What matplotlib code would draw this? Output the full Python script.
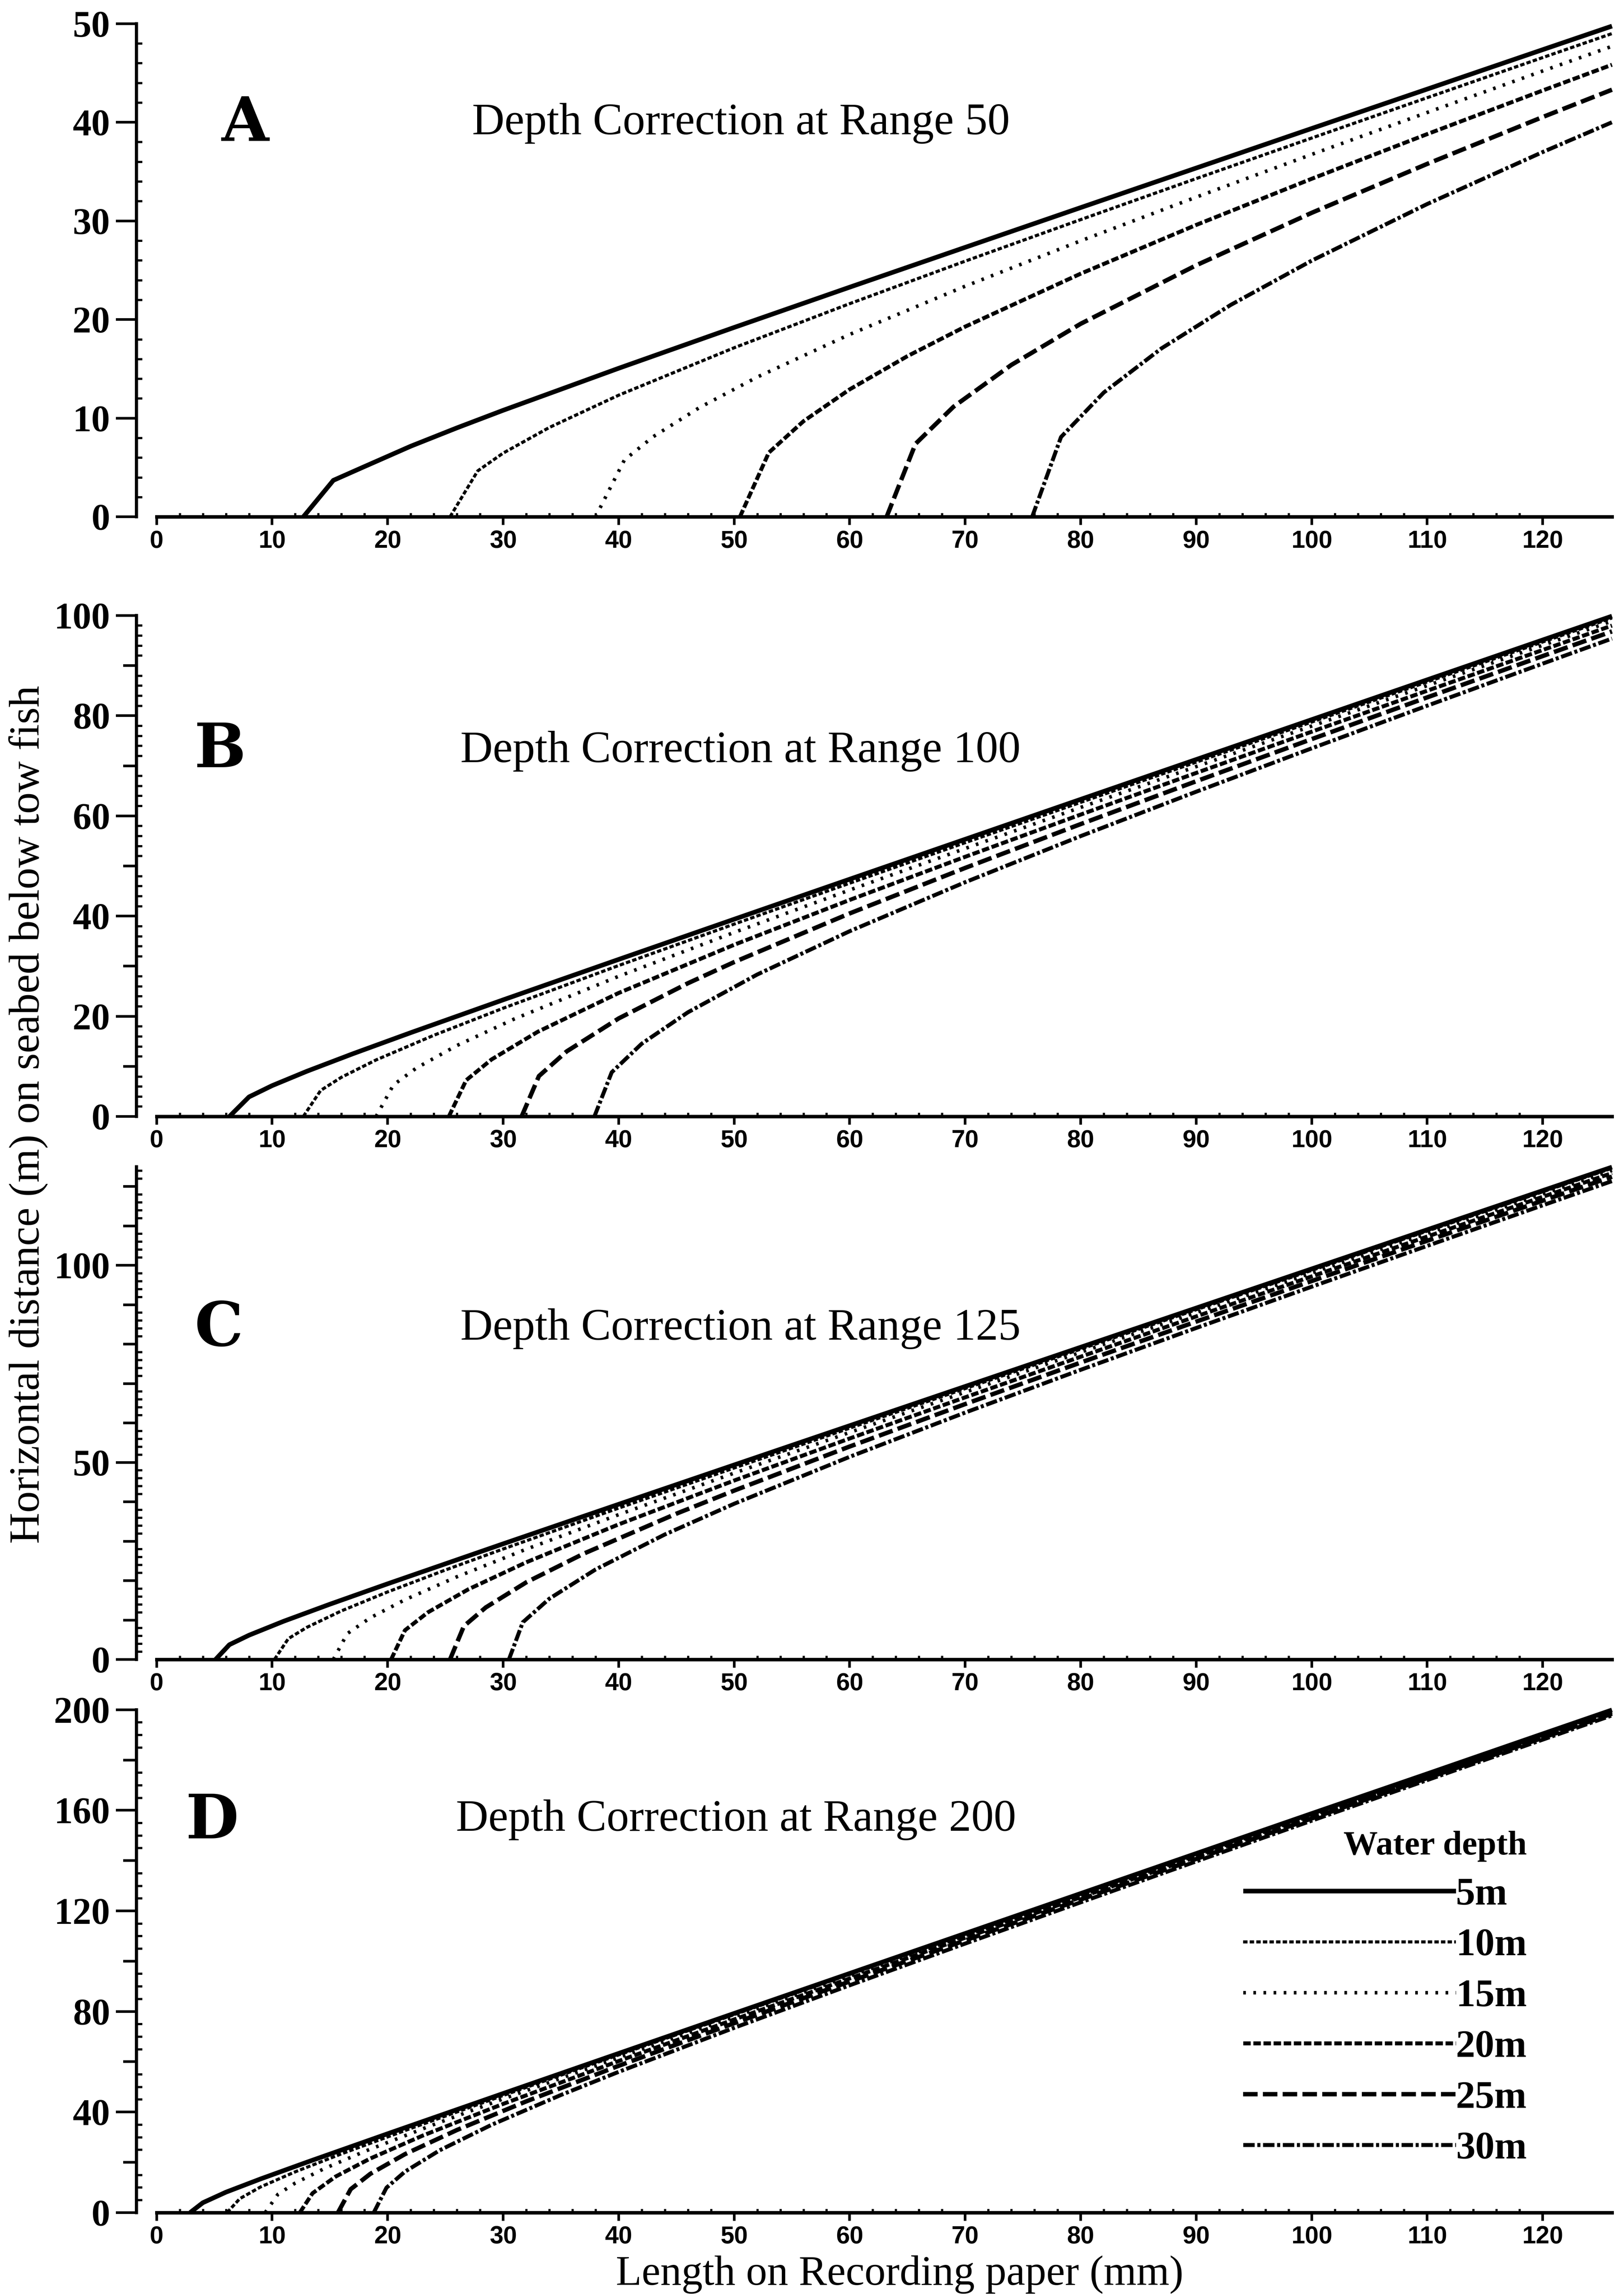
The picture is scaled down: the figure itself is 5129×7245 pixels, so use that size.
"""
Depth correction curves for four recorder ranges (panels A-D)
"""
import numpy as np
import matplotlib
matplotlib.use("Agg")
import matplotlib.pyplot as plt

plt.rcParams['lines.scale_dashes'] = False

depth_labels = ['5m', '10m', '15m', '20m', '25m', '30m']
ranges = [50, 100, 125, 200]
letters = ['A', 'B', 'C', 'D']
x_ticks = list(range(0, 121, 10))

# ---- Range 50 ----
r50_x = [
    [12.7, 15.3, 18, 22, 26, 30, 40, 50, 60, 70, 80, 90, 100, 110, 120, 126],
    [25.4, 27.8, 30, 34, 40, 50, 60, 70, 80, 90, 100, 110, 120, 126],
    [38.0, 40.5, 43, 47, 52, 60, 70, 80, 90, 100, 110, 120, 126],
    [50.5, 53, 56, 60, 65, 70, 80, 90, 100, 110, 120, 126],
    [63.2, 65.7, 69, 74, 80, 90, 100, 110, 120, 126],
    [75.8, 78.3, 82, 87, 93, 100, 110, 120, 126],
]
r50_y = [
    [0, 3.7, 5.10, 7.16, 9.02, 10.80, 15.06, 19.20, 23.28, 27.32, 31.35, 35.36, 39.37, 43.36, 47.36, 49.75],
    [0, 4.66, 6.46, 9.06, 12.33, 17.14, 21.61, 25.92, 30.13, 34.29, 38.40, 42.49, 46.56, 48.99],
    [0, 5.77, 8.13, 11.08, 14.17, 18.49, 23.38, 27.98, 32.41, 36.74, 40.99, 45.20, 47.70],
    [0, 6.51, 9.69, 12.92, 16.29, 19.28, 24.65, 29.59, 34.27, 38.80, 43.22, 45.83],
    [0, 7.40, 11.17, 15.40, 19.57, 25.50, 30.82, 35.78, 40.53, 43.30],
    [0, 8.09, 12.60, 17.08, 21.49, 25.97, 31.71, 36.98, 40.00],
]

# ---- Range 100 ----
r100_x = [
    [6.3, 8, 10, 13, 17, 22, 30, 40, 50, 60, 70, 80, 90, 100, 110, 120, 126],
    [12.7, 14.2, 16, 19, 24, 30, 40, 50, 60, 70, 80, 90, 100, 110, 120, 126],
    [19.0, 20.5, 22.5, 26, 31, 40, 50, 60, 70, 80, 90, 100, 110, 120, 126],
    [25.3, 26.8, 29, 33, 40, 50, 60, 70, 80, 90, 100, 110, 120, 126],
    [31.6, 33.1, 35.5, 40, 46, 50, 60, 70, 80, 90, 100, 110, 120, 126],
    [37.9, 39.4, 42, 46, 52, 60, 70, 80, 90, 100, 110, 120, 126],
]
r100_y = [
    [0, 3.91, 6.16, 9.02, 12.53, 16.73, 23.28, 31.35, 39.37, 47.36, 55.33, 63.30, 71.25, 79.21, 87.16, 95.11, 99.87],
    [0, 5.20, 7.83, 11.29, 16.21, 21.61, 30.13, 38.40, 46.56, 54.65, 62.70, 70.72, 78.73, 86.73, 94.71, 99.50],
    [0, 6.30, 9.69, 14.17, 19.50, 27.98, 36.74, 45.20, 53.49, 61.69, 69.84, 77.93, 86.00, 94.05, 98.87],
    [0, 7.24, 11.39, 16.91, 24.65, 34.27, 43.22, 51.83, 60.26, 68.57, 76.80, 84.98, 93.11, 97.98],
    [0, 8.07, 12.99, 19.57, 26.60, 30.82, 40.53, 49.61, 58.36, 66.91, 75.32, 83.65, 91.90, 96.82],
    [0, 8.82, 14.53, 20.80, 28.34, 36.98, 46.76, 55.96, 64.82, 73.48, 81.99, 90.39, 95.39],
]

# ---- Range 125 ----
r125_x = [
    [5.1, 6.3, 8, 11, 15, 20, 30, 40, 50, 60, 70, 80, 90, 100, 110, 120, 126],
    [10.2, 11.4, 13, 16, 20, 25, 30, 40, 50, 60, 70, 80, 90, 100, 110, 120, 126],
    [15.3, 16.5, 18.5, 21.5, 26, 32, 40, 50, 60, 70, 80, 90, 100, 110, 120, 126],
    [20.3, 21.5, 23.5, 27, 32, 40, 50, 60, 70, 80, 90, 100, 110, 120, 126],
    [25.4, 26.6, 28.5, 32, 37, 45, 50, 60, 70, 80, 90, 100, 110, 120, 126],
    [30.5, 31.7, 34, 38, 44, 50, 60, 70, 80, 90, 100, 110, 120, 126],
]
r125_y = [
    [0, 3.75, 6.16, 9.70, 14.02, 19.20, 29.34, 39.37, 49.35, 59.31, 69.26, 79.21, 89.15, 99.08, 109.01, 118.94, 124.90],
    [0, 5.28, 8.14, 12.33, 17.14, 22.70, 28.03, 38.40, 48.58, 58.68, 68.72, 78.73, 88.72, 98.70, 108.67, 118.63, 124.60],
    [0, 6.55, 10.58, 15.16, 20.98, 27.98, 36.74, 47.28, 57.60, 67.80, 77.93, 88.02, 98.07, 108.09, 118.10, 124.10],
    [0, 7.41, 11.98, 17.82, 24.65, 34.27, 45.39, 56.06, 66.50, 76.80, 87.02, 97.17, 107.28, 117.36, 123.39],
    [0, 8.45, 13.21, 19.57, 26.88, 36.99, 42.84, 54.02, 64.79, 75.32, 85.71, 96.00, 106.22, 116.39, 122.47],
    [0, 9.43, 15.42, 22.83, 31.71, 39.50, 51.41, 62.63, 73.48, 84.09, 94.56, 104.92, 115.21, 121.35],
]

# ---- Range 200 ----
r200_x = [
    [2.9, 4, 6, 9, 13, 20, 30, 40, 50, 60, 70, 80, 90, 100, 110, 120, 126],
    [6.1, 7.2, 9, 12, 16, 22, 30, 40, 50, 60, 70, 80, 90, 100, 110, 120, 126],
    [9.4, 10.5, 12, 14.5, 18, 24, 30, 40, 50, 60, 70, 80, 90, 100, 110, 120, 126],
    [12.4, 13.5, 15.5, 18.5, 23, 30, 40, 50, 60, 70, 80, 90, 100, 110, 120, 126],
    [15.7, 16.8, 18.5, 21.5, 26, 32, 40, 50, 60, 70, 80, 90, 100, 110, 120, 126],
    [18.8, 19.9, 21.5, 24.5, 29, 35, 40, 50, 60, 70, 80, 90, 100, 110, 120, 126],
]
r200_y = [
    [0, 3.91, 8.11, 13.38, 20.02, 31.35, 47.36, 63.30, 79.21, 95.11, 111.0, 126.9, 142.8, 158.7, 174.5, 190.4, 199.9],
    [0, 5.53, 10.20, 16.21, 23.35, 33.46, 46.56, 62.70, 78.73, 94.71, 110.66, 126.59, 142.51, 158.41, 174.32, 190.21, 199.75],
    [0, 7.26, 11.74, 17.46, 24.32, 35.02, 45.20, 61.69, 77.93, 94.05, 110.09, 126.10, 142.07, 158.02, 173.96, 189.88, 199.44],
    [0, 7.69, 14.33, 21.50, 30.54, 43.22, 60.26, 76.80, 93.11, 109.30, 125.40, 141.45, 157.46, 173.45, 189.42, 199.0],
    [0, 9.28, 15.40, 23.23, 32.84, 44.22, 58.36, 75.32, 91.90, 108.26, 124.50, 140.65, 156.75, 172.80, 188.83, 198.43],
    [0, 9.89, 16.27, 24.75, 34.91, 46.76, 55.96, 73.48, 90.39, 106.98, 123.39, 139.67, 155.87, 172.01, 188.10, 197.74],
]

panel_x = [r50_x, r100_x, r125_x, r200_x]
panel_y = [r50_y, r100_y, r125_y, r200_y]

# y axis ticks: labelled, medium (unlabelled), minor step
y_tops = [50, 100, 125, 200]
y_labelled = [[0, 10, 20, 30, 40, 50],
              [0, 20, 40, 60, 80, 100],
              [0, 50, 100],
              [0, 40, 80, 120, 160, 200]]
y_medium = [[],
            [10, 30, 50, 70, 90],
            [10, 20, 30, 40, 60, 70, 80, 90, 110, 120],
            [20, 60, 100, 140, 180]]
y_minor_step = [2, 2, 2, 5]

# line styles for each depth
styles = [
    dict(linestyle='-', linewidth=10.5),
    dict(linewidth=7, dashes=(10, 5)),
    dict(linewidth=8, dashes=(6, 17)),
    dict(linewidth=9, dashes=(17, 6)),
    dict(linewidth=10, dashes=(33, 12)),
    dict(linewidth=9, dashes=(26, 6, 7, 6)),
]

boxes = [(0.0840, 0.7747, 0.9086, 0.2150),
         (0.0840, 0.5133, 0.9086, 0.2184),
         (0.0840, 0.2766, 0.9086, 0.2148),
         (0.0840, 0.0355, 0.9086, 0.2192)]
letter_pos = [(0.0577, 0.762), (0.0393, 0.697), (0.0395, 0.637), (0.0335, 0.744)]
title_pos = [(0.2275, 0.776), (0.2195, 0.707), (0.2195, 0.649), (0.2165, 0.759)]

serif = 'Liberation Serif'

fig = plt.figure(figsize=(51.29, 72.45), dpi=100)

for i in range(4):
    ax = fig.add_axes(boxes[i])
    lines = []
    for j in range(6):
        l, = ax.plot(panel_x[i][j], panel_y[i][j], color='black', clip_on=False,
                     solid_capstyle='butt', label=depth_labels[j], **styles[j])
        lines.append(l)

    ax.set_xlim(-1.75, 126)
    ax.set_ylim(0, y_tops[i])
    for s in ['top', 'right']:
        ax.spines[s].set_visible(False)
    ax.spines['bottom'].set_bounds(0, 126)
    ax.spines['bottom'].set_linewidth(8)
    ax.spines['left'].set_linewidth(7)

    # x axis
    ax.set_xticks(x_ticks)
    ax.set_xticklabels([str(v) for v in x_ticks], fontfamily='Liberation Sans',
                       fontweight='bold', fontsize=56)
    ax.set_xticks([v for v in range(2, 119, 2) if v % 10], minor=True)
    ax.tick_params(axis='x', which='major', direction='out', length=19, width=6, pad=10)
    ax.tick_params(axis='x', which='minor', direction='in', length=9, width=5)

    # y axis
    ax.set_yticks(y_labelled[i])
    ax.set_yticklabels([str(v) for v in y_labelled[i]], fontfamily=serif,
                       fontweight='bold', fontsize=85)
    skip = set(y_labelled[i]) | set(y_medium[i])
    minors = [v for v in np.arange(0, y_tops[i] + 0.1, y_minor_step[i]) if v not in skip]
    ax.set_yticks(minors, minor=True)
    ax.tick_params(axis='y', which='major', direction='out', length=47, width=6, pad=13)
    ax.tick_params(axis='y', which='minor', direction='in', length=13, width=5)

    sec = ax.secondary_yaxis('left')
    sec.set_yticks(y_medium[i])
    sec.set_yticklabels([])
    sec.tick_params(axis='y', which='major', direction='out', length=30, width=6)
    sec.tick_params(axis='y', which='minor', left=False)
    sec.spines['left'].set_linewidth(7)

    ax.text(letter_pos[i][0], letter_pos[i][1], letters[i], transform=ax.transAxes,
            fontfamily='DejaVu Serif', fontweight='bold', fontsize=139, va='baseline')
    ax.text(title_pos[i][0], title_pos[i][1], 'Depth Correction at Range %d' % ranges[i],
            transform=ax.transAxes, fontfamily=serif, fontsize=102, va='baseline')

    if i == 3:
        leg = ax.legend(handles=lines, loc='upper left', bbox_to_anchor=(0.75, 0.759),
                        frameon=False, borderpad=0, borderaxespad=0,
                        handlelength=5.5, handletextpad=0, labelspacing=0.40,
                        prop=dict(family=serif, weight='bold', size=88),
                        title='Water depth', alignment='right',
                        title_fontproperties=dict(family=serif, weight='bold', size=78))

fig.text(0.0172, 0.5141, 'Horizontal distance (m) on seabed below tow fish',
         rotation=90, ha='center', va='center', fontfamily=serif, fontsize=98)
fig.text(0.554, 0.0085, 'Length on Recording paper (mm)',
         ha='center', va='center', fontfamily=serif, fontsize=96)

fig.savefig('out.png', dpi=100)
